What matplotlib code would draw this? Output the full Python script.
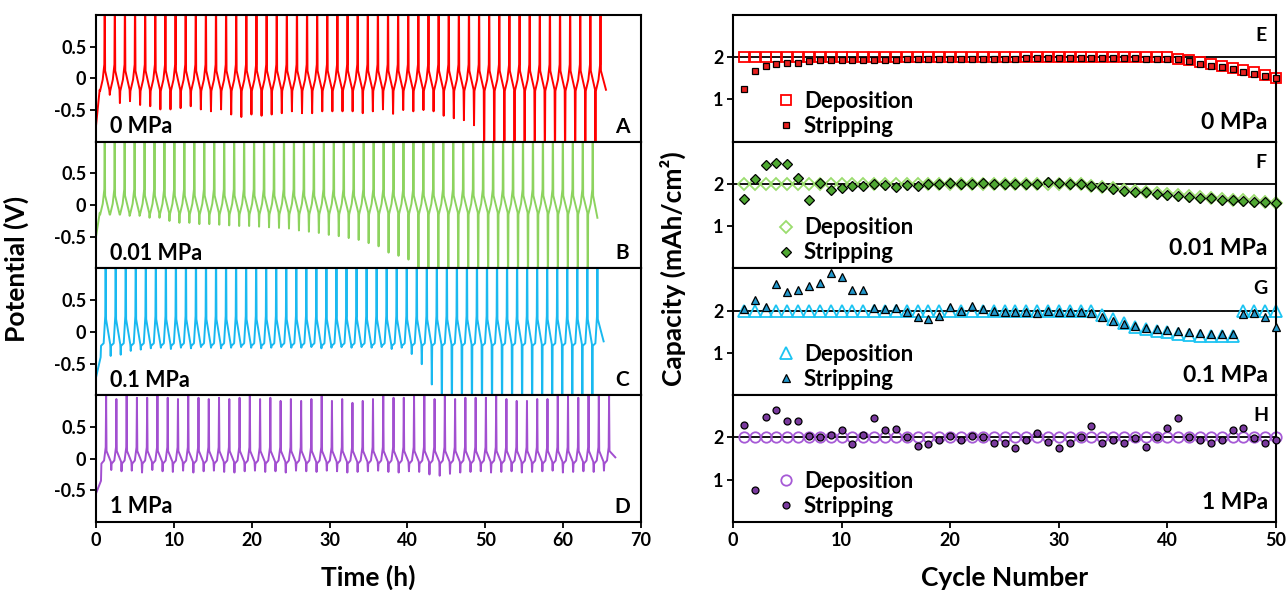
import numpy as np
import matplotlib
matplotlib.use("Agg")
import matplotlib.pyplot as plt

plt.rcParams['font.family'] = ['Lato', 'DejaVu Sans']
plt.rcParams['font.weight'] = 'bold'
plt.rcParams['axes.unicode_minus'] = False

# ---------------- left: potential vs time ----------------
pressures = ['0 MPa', '0.01 MPa', '0.1 MPa', '1 MPa']
left_tags = ['A', 'B', 'C', 'D']
right_tags = ['E', 'F', 'G', 'H']
line_colors = ['#FF0000', '#8DD35F', '#19B9F0', '#A24FD0']

# first / last up-spike time (h), end of trace, start and end potential (V)
first_up = [1.12, 1.12, 1.24, 1.30]
last_up = [64.8, 63.8, 64.4, 65.9]
end_t = [65.5, 64.4, 65.2, 66.7]
start_v = [-0.75, -0.5, -0.72, -0.55]
end_v = [-0.18, -0.2, -0.15, 0.02]

trough_0 = [-0.18, -0.26, -0.39, -0.36, -0.42, -0.44, -0.49, -0.49, -0.47, -0.44,
            -0.49, -0.52, -0.49, -0.57, -0.61, -0.57, -0.59, -0.57, -0.55, -0.52,
            -0.55, -0.55, -0.52, -0.52, -0.52, -0.52, -0.55, -0.52, -0.49, -0.56,
            -0.50, -0.52, -0.50, -0.52, -0.59, -0.63, -0.66, -0.74, -1.5, -1.5,
            -1.5, -1.5, -1.5, -1.5, -1.5, -1.5, -1.5, -1.5, -1.5, -1.5]
trough_001 = [-0.12, -0.15, -0.15, -0.17, -0.17, -0.20, -0.20, -0.25, -0.28, -0.28,
              -0.30, -0.30, -0.31, -0.32, -0.33, -0.33, -0.34, -0.35, -0.36, -0.37,
              -0.40, -0.42, -0.44, -0.47, -0.49, -0.52, -0.55, -0.60, -0.65, -0.75,
              -0.80, -0.86, -1.5, -1.5, -1.5, -1.5, -1.5, -1.5, -1.5, -1.5,
              -1.5, -1.5, -1.5, -1.5, -1.5, -1.5, -1.5, -1.5, -1.5, -1.5]
trough_01 = [-0.40, -0.38, -0.36, -0.30, -0.28, -0.26, -0.25, -0.27, -0.25, -0.26,
             -0.24, -0.25, -0.26, -0.25, -0.24, -0.25, -0.26, -0.25, -0.24, -0.25,
             -0.25, -0.24, -0.26, -0.25, -0.24, -0.25, -0.24, -0.25, -0.24, -0.27,
             -0.25, -0.35, -0.51, -0.83, -1.5, -1.5, -1.5, -1.5, -1.5, -1.5,
             -1.5, -1.5, -1.5, -1.5, -1.5, -1.5, -1.5, -1.5, -1.5, -1.5]
trough_1 = [-0.35, -0.18, -0.20, -0.19, -0.22, -0.18, -0.20, -0.21, -0.19, -0.22,
            -0.20, -0.19, -0.21, -0.22, -0.20, -0.19, -0.21, -0.20, -0.22, -0.19,
            -0.20, -0.21, -0.19, -0.20, -0.22, -0.21, -0.20, -0.19, -0.21, -0.22,
            -0.20, -0.21, -0.25, -0.27, -0.24, -0.22, -0.21, -0.20, -0.22, -0.21,
            -0.20, -0.22, -0.21, -0.20, -0.19, -0.22, -0.21, -0.20, -0.21, -0.19]
troughs = [trough_0, trough_001, trough_01, trough_1]

peak_clip = [1.5] * 50
peak_1 = [0.99, 0.94, 0.99, 0.96, 0.96, 0.99, 0.96, 0.94, 0.99, 0.96,
          0.94, 0.96, 0.94, 0.96, 0.99, 0.94, 0.96, 0.91, 0.94, 0.91,
          0.94, 0.99, 0.91, 0.94, 0.88, 0.91, 0.94, 0.99, 0.96, 0.96,
          0.99, 0.99, 0.94, 0.99, 0.94, 0.96, 0.96, 0.96, 0.99, 0.94,
          0.91, 0.91, 0.94, 0.94, 0.99, 0.99, 0.96, 0.99, 0.99, 0.99]
peaks = [peak_clip, peak_clip, peak_clip, peak_1]

# plateau levels per panel: recovery, mid, hump, post-spike, pre-trough
levels = [(-0.20, -0.02, 0.22, 0.12, -0.18),
          (-0.15, 0.02, 0.25, 0.15, -0.12),
          (-0.22, -0.18, 0.25, 0.20, -0.20),
          (-0.08, -0.03, 0.18, 0.12, -0.05)]
phase = [0.0, 0.04, 0.30, 0.46, 0.50, 0.54, 0.96]

# ---------------- right: capacity vs cycle ----------------
cycles = np.arange(1, 51)
dep_0 = [2.0] * 40 + [1.97, 1.93, 1.88, 1.84, 1.79, 1.74, 1.69, 1.64, 1.58, 1.52]
str_0 = [1.25, 1.68, 1.80, 1.83, 1.86, 1.87, 1.92, 1.94, 1.94, 1.93,
         1.94, 1.94, 1.93, 1.94, 1.94, 1.97, 1.97, 1.97, 1.97, 1.96,
         1.97, 1.97, 1.97, 1.97, 1.97, 1.97, 1.98, 1.98, 1.98, 1.98,
         1.98, 1.98, 1.98, 1.98, 1.98, 1.98, 1.98, 1.97, 1.97, 1.97,
         1.95, 1.90, 1.85, 1.80, 1.76, 1.71, 1.66, 1.61, 1.56, 1.50]
dep_001 = [2.0] * 32 + [1.96, 1.94, 1.90, 1.86, 1.83, 1.80, 1.78, 1.76, 1.73, 1.71,
                        1.69, 1.67, 1.65, 1.63, 1.61, 1.60, 1.58, 1.56]
str_001 = [1.64, 2.12, 2.45, 2.50, 2.47, 2.15, 1.62, 2.02, 1.86, 1.90,
           1.95, 1.95, 2.00, 1.98, 1.92, 1.98, 1.95, 2.00, 2.00, 2.02,
           2.00, 2.00, 2.02, 2.00, 2.00, 1.99, 2.00, 2.00, 2.04, 2.03,
           2.01, 2.00, 1.95, 1.93, 1.88, 1.84, 1.82, 1.80, 1.77, 1.75,
           1.72, 1.70, 1.68, 1.66, 1.63, 1.62, 1.60, 1.58, 1.57, 1.55]
dep_01 = [2.0] * 33 + [1.90, 1.80, 1.70, 1.62, 1.56, 1.52, 1.50, 1.46, 1.43, 1.41,
                       1.40, 1.40, 1.40, 2.0, 2.0, 2.0, 2.0]
str_01 = [2.03, 2.25, 2.09, 2.63, 2.45, 2.50, 2.58, 2.65, 2.90, 2.80,
          2.50, 2.50, 2.07, 2.04, 2.06, 1.98, 1.86, 1.80, 1.88, 2.09,
          2.00, 2.11, 2.03, 2.00, 1.96, 1.96, 1.97, 1.95, 2.00, 1.98,
          1.96, 1.97, 1.95, 1.85, 1.76, 1.68, 1.63, 1.60, 1.56, 1.54,
          1.51, 1.49, 1.48, 1.46, 1.46, 1.45, 1.92, 1.95, 1.85, 1.62]
dep_1 = [2.0] * 50
str_1 = [2.30, 0.76, 2.48, 2.65, 2.40, 2.38, 2.04, 2.00, 2.06, 2.17,
         1.85, 2.06, 2.46, 2.18, 2.20, 2.00, 1.80, 1.84, 1.94, 2.04,
         1.94, 2.04, 2.00, 1.88, 1.87, 1.75, 1.93, 2.10, 1.90, 1.76,
         1.88, 2.02, 2.27, 1.88, 1.93, 1.88, 1.98, 1.78, 2.00, 2.22,
         2.46, 2.02, 1.93, 1.88, 1.93, 2.17, 2.22, 1.98, 1.88, 1.93]
dep_all = [dep_0, dep_001, dep_01, dep_1]
str_all = [str_0, str_001, str_01, str_1]

markers = ['s', 'D', '^', 'o']
dep_colors = ['#FF0000', '#9BDD6E', '#1CC4F2', '#A65AD6']
str_fill = ['#E8201E', '#4FA832', '#2398CC', '#7A3A9E']
dep_size = [7.5, 6.5, 8, 7.5]
str_size = [5, 5, 6, 5]

fig = plt.figure(figsize=(12.88, 5.9), dpi=100)
top, bottom = 0.9746, 0.1153
ph = (top - bottom) / 4
lx0, lw = 96 / 1288, 545 / 1288
rx0, rw = 733 / 1288, 543 / 1288


def style(ax):
    for s in ax.spines.values():
        s.set_linewidth(1.5)
    ax.tick_params(direction='out', length=4, width=1.3, labelsize=13, pad=3)


for i in range(4):
    y0 = top - (i + 1) * ph
    # ---------- left panel ----------
    ax = fig.add_axes([lx0, y0, lw, ph])
    n = len(troughs[i])
    per = (last_up[i] - first_up[i]) / (n - 1)
    rec, mid, hump, post, pre = levels[i]
    t = [0.0]
    v = [start_v[i]]
    for j in range(n):
        t0 = first_up[i] - per / 2 + j * per
        vals = [troughs[i][j], rec, mid, hump, peaks[i][j], post, pre]
        k = 6 if j == n - 1 else 7
        t += [t0 + per * p for p in phase[:k]]
        v += vals[:k]
    t.append(end_t[i])
    v.append(end_v[i])
    ax.plot(t, v, color=line_colors[i], lw=1.4)
    ax.set_xlim(0, 70)
    ax.set_ylim(-1, 1)
    ax.set_xticks(range(0, 71, 10))
    ax.set_yticks([-0.5, 0, 0.5])
    ax.set_yticklabels(['-0.5', '0', '0.5'])
    style(ax)
    if i < 3:
        ax.set_xticklabels([])
    ax.text(0.025, 0.12, pressures[i], transform=ax.transAxes, fontsize=15.5,
            fontweight='bold', ha='left', va='center')
    ax.text(0.965, 0.12, left_tags[i], transform=ax.transAxes, fontsize=15,
            fontweight='bold', ha='center', va='center')

    # ---------- right panel ----------
    ax2 = fig.add_axes([rx0, y0, rw, ph])
    ax2.axhline(2, color='black', lw=1.3, zorder=1)
    h1, = ax2.plot(cycles, dep_all[i], linestyle='none', marker=markers[i],
                   markersize=dep_size[i], markerfacecolor='none',
                   markeredgecolor=dep_colors[i], markeredgewidth=1.3, zorder=2,
                   clip_on=False)
    h2, = ax2.plot(cycles, str_all[i], linestyle='none', marker=markers[i],
                   markersize=str_size[i], markerfacecolor=str_fill[i],
                   markeredgecolor='black', markeredgewidth=0.9, zorder=3,
                   clip_on=False)
    ax2.set_xlim(0, 50)
    ax2.set_ylim(0, 3)
    ax2.set_xticks(range(0, 51, 10))
    ax2.set_yticks([1, 2])
    style(ax2)
    if i < 3:
        ax2.set_xticklabels([])
    ax2.legend([h1, h2], ['Deposition', 'Stripping'], loc='lower left',
               bbox_to_anchor=(0.065, -0.03), frameon=False, handlelength=0.8,
               handletextpad=0.4, labelspacing=0.18, borderaxespad=0,
               prop=dict(weight='bold', size=16))
    ax2.text(0.972, 0.84, right_tags[i], transform=ax2.transAxes, fontsize=14,
             fontweight='bold', ha='center', va='center')
    ax2.text(0.985, 0.155, pressures[i], transform=ax2.transAxes, fontsize=16.5,
             fontweight='bold', ha='right', va='center')

fig.text(0.013, 0.545, 'Potential (V)', rotation=90, fontsize=19,
         fontweight='bold', ha='center', va='center')
fig.text(0.5225, 0.545, 'Capacity (mAh/cm²)', rotation=90, fontsize=19,
         fontweight='bold', ha='center', va='center')
fig.text(0.286, 0.022, 'Time (h)', fontsize=19, fontweight='bold',
         ha='center', va='center')
fig.text(0.78, 0.02, 'Cycle Number', fontsize=19, fontweight='bold',
         ha='center', va='center')

fig.savefig('out.png', dpi=100)
